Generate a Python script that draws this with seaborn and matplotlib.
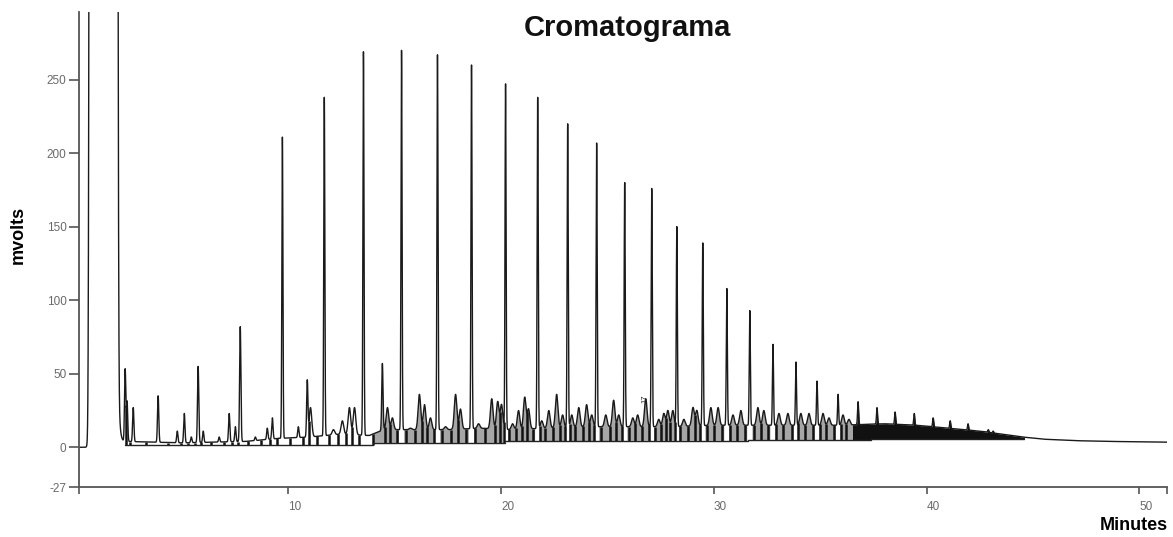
import numpy as np
import seaborn as sns
import matplotlib.pyplot as plt

# chromatogram (minutes, mvolts)
major_time = [9.72, 11.69, 13.53, 15.32, 17.01, 18.61, 20.21, 21.72, 23.13, 24.49,
              25.81, 27.08, 28.26, 29.48, 30.61, 31.69, 32.78, 33.86, 34.85, 35.84,
              36.78, 37.67, 38.52, 39.42, 40.31, 41.11, 41.95, 42.90, 43.13]
major_height = [211, 238, 269, 270, 267, 260, 247, 238, 220, 207,
                180, 176, 150, 139, 108, 93, 70, 58, 45, 36,
                31, 27, 24, 23, 20, 18, 16, 12, 11]

minor_time = [2.33, 2.42, 2.71, 3.88, 4.78, 5.11, 5.44, 5.76, 6.00, 6.75,
              7.22, 7.51, 7.74, 8.45, 9.01, 9.25, 10.47, 10.89, 11.04, 12.12,
              12.54, 12.87, 13.11, 14.42, 14.66, 14.89, 15.74, 16.16,
              16.40, 16.68, 17.39, 17.86, 18.09, 18.94, 19.56, 19.84,
              20.02, 20.54, 20.82, 21.11, 21.29, 21.91, 22.24, 22.61, 22.89, 23.32,
              23.65, 24.02, 24.26, 24.92, 25.29, 25.53, 26.19, 26.42, 26.80, 27.41,
              27.65, 27.84, 28.07, 28.59, 29.02, 29.20, 29.86, 30.20, 30.90, 31.27,
              32.07, 32.35, 33.06, 33.48, 34.09, 34.47, 35.13, 35.41, 36.07, 36.35]
minor_height = [53, 31, 27, 35, 11, 23, 7, 55, 11, 7,
                23, 14, 82, 7, 13, 20, 14, 45, 27, 12,
                18, 27, 27, 57, 27, 20, 13, 36,
                29, 20, 14, 36, 26, 16, 33, 31,
                29, 16, 25, 34, 26, 18, 25, 36, 22, 22,
                27, 29, 22, 22, 32, 22, 20, 22, 33, 19,
                23, 25, 25, 19, 27, 25, 27, 27, 22, 25,
                27, 25, 23, 23, 23, 23, 23, 20, 22, 19]

solvent_time = [0.72, 1.15, 1.45, 1.90]
solvent_height = [2000, 2000, 2000, 2000]
solvent_width = [0.05, 0.15, 0.2, 0.05]

hump_time = [0.16, 0.50, 2.3, 5.0, 8.0, 9.5, 11.0, 12.5, 13.8, 14.5, 16.0, 17.5, 19.0,
             20.5, 22.0, 24.0, 26.0, 28.0, 30.0, 32.0, 34.0, 36.0, 38.0, 39.5, 41.0,
             42.5, 43.5, 44.5, 45.5, 47.0, 48.5, 51.3]
hump_level = [0, 0, 4, 3, 4, 6, 7, 9, 8, 12, 12, 12, 13,
              12, 13, 14, 14, 14, 15, 15, 15, 15, 16, 15, 13,
              11, 9, 7, 5.5, 4.5, 4, 3.5]

# integration baseline segments
seg_start = [2.3, 14.0, 20.2, 25.6, 31.6, 37.4]
seg_end = [14.0, 20.2, 25.6, 31.6, 37.4, 44.6]
seg_level = [1.5, 3.0, 4.0, 4.5, 5.0, 5.5]

shade_start, dense_start, dense_end = 14.0, 36.5, 44.6

# build the detector trace
t = np.linspace(0.16, 51.3, 24000)
signal = np.interp(t, hump_time, hump_level)
for c, h, s in zip(solvent_time, solvent_height, solvent_width):
    signal += h * np.exp(-0.5 * ((t - c) / s) ** 2)
for c, h in zip(major_time, major_height):
    amp = max(h - np.interp(c, hump_time, hump_level), 0)
    signal += amp * np.exp(-0.5 * ((t - c) / 0.025) ** 2)
for c, h in zip(minor_time, minor_height):
    amp = max(h - np.interp(c, hump_time, hump_level), 0)
    s = 0.03 if (c < 11 or h > 40) else 0.06
    signal += amp * np.exp(-0.5 * ((t - c) / s) ** 2)


def base_at(x):
    out = np.full_like(np.asarray(x, dtype=float), np.nan)
    for a, b, lv in zip(seg_start, seg_end, seg_level):
        out[(x >= a) & (x < b)] = lv
    return out


sns.set_theme(style='white')
plt.rcParams['font.family'] = ['Liberation Sans', 'DejaVu Sans']

fig = plt.figure(figsize=(11.73, 5.37), dpi=100)
ax = fig.add_axes([79 / 1173, 50 / 537, (1167 - 79) / 1173, (525 - 50) / 537])

# grey shading under the unresolved hump, white next to the main peaks
near_major = np.zeros_like(t, dtype=bool)
for c in major_time:
    near_major |= np.abs(t - c) < 0.12
shade = (t >= shade_start) & (t < dense_start) & ~near_major
ax.fill_between(t, base_at(t), np.minimum(signal, 40), where=shade,
                color='#a6a6a6', lw=0)

# drop lines between neighbouring peaks
all_peaks = np.sort(np.array(major_time + minor_time))
drops = (all_peaks[1:] + all_peaks[:-1]) / 2
drops = drops[drops > 2.3]
ax.vlines(drops, base_at(drops), np.interp(drops, t, signal), color='#111111', lw=1.8)

dense = (t >= dense_start) & (t <= dense_end)
ax.fill_between(t, base_at(t), signal, where=dense, color='#111111', lw=0)

for a, b, lv in zip(seg_start, seg_end, seg_level):
    ax.plot([a, b], [lv, lv], color='#222222', lw=1)

sns.lineplot(x=t, y=signal, ax=ax, color='#1a1a1a', linewidth=1.0, estimator=None)

ax.text(26.75, 30, '17', rotation=90, fontsize=5.5, color='#222222', ha='center', va='bottom')

ax.set_xlim(0.16, 51.3)
ax.set_ylim(-27, 296)
for side in ['top', 'right']:
    ax.spines[side].set_visible(False)
for side in ['left', 'bottom']:
    ax.spines[side].set_color('#555555')
    ax.spines[side].set_linewidth(1.3)

ax.set_yticks([-27, 0, 50, 100, 150, 200, 250])
ax.set_yticklabels(['-27', '0', '50', '100', '150', '200', '250'])
ax.set_xticks([0.16, 10, 20, 30, 40, 50, 51.3])
ax.set_xticklabels(['', '10', '20', '30', '40', '50', ''])
ax.tick_params(axis='y', direction='out', length=7, width=1.2, color='#555555',
               labelsize=8.5, labelcolor='#6a6a6a', left=True, pad=2)
ax.tick_params(axis='x', direction='out', length=5, width=1.2, color='#555555',
               labelsize=8.5, labelcolor='#6a6a6a', bottom=True, pad=5)
for lab in ax.get_xticklabels():
    lab.set_horizontalalignment('left')
ax.set_xlabel('')
ax.set_ylabel('')

fig.text(627 / 1173, 1 - 28 / 537, 'Cromatograma', fontsize=21, fontweight='bold',
         ha='center', va='center', color='#111111')
fig.text(18 / 1173, 1 - 235 / 537, 'mvolts', fontsize=13, fontweight='bold', rotation=90,
         ha='center', va='center', color='#000000')
fig.text(1168 / 1173, 1 - 526 / 537, 'Minutes', fontsize=13, fontweight='bold',
         ha='right', va='center', color='#000000')

fig.savefig('out.png', dpi=100, facecolor='white')
